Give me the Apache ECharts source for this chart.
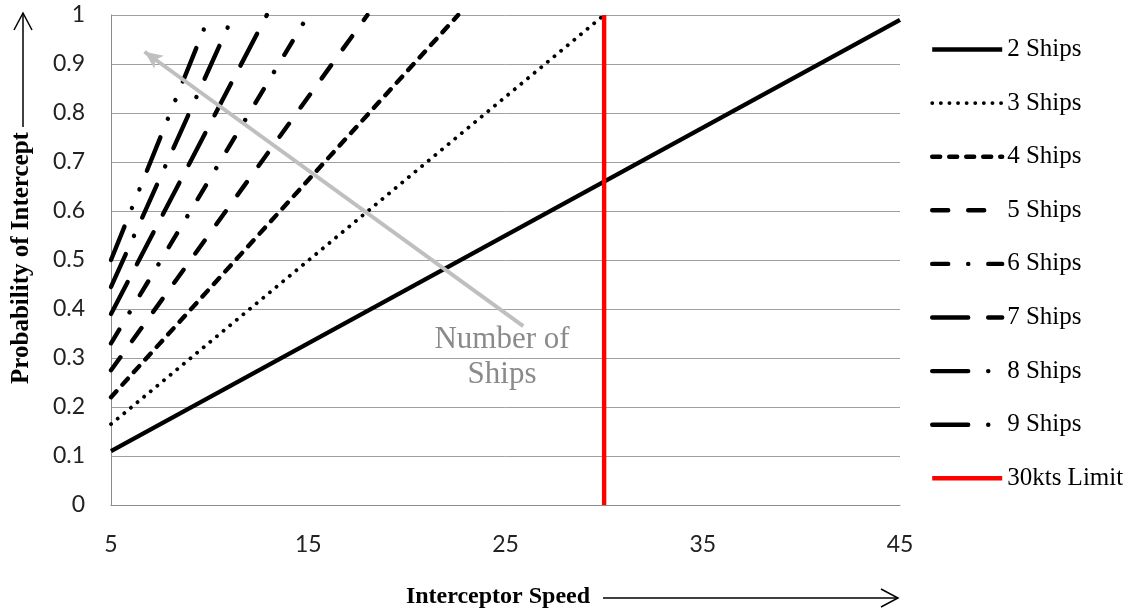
<!DOCTYPE html>
<html>
<head>
<meta charset="utf-8">
<script src="https://cdn.jsdelivr.net/npm/echarts@6/dist/echarts.min.js"></script>
<style>
html,body{margin:0;padding:0;background:#fff;}
#chart{width:1131px;height:613px;}
</style>
</head>
<body>
<div id="chart"></div>
<script>
// ---- data ----
const seriesNames = ['2 Ships', '3 Ships', '4 Ships', '5 Ships', '6 Ships', '7 Ships', '8 Ships', '9 Ships', '30kts Limit'];
const ships2 = [[5, 0.11], [45, 0.99]];
const ships3 = [[5, 0.165], [30, 1.0]];
const ships4 = [[5, 0.22], [22.6, 1.0]];
const ships5 = [[5, 0.275], [18, 1.0]];
const ships6 = [[5, 0.33], [15, 1.0]];
const ships7 = [[5, 0.39], [12.9, 1.0]];
const ships8 = [[5, 0.445], [11.2, 1.0]];
const ships9 = [[5, 0.5], [10, 1.0]];
const limit30 = [[30, 0], [30, 1]];
const arrowFrom = [25.9, 0.365];
const arrowTo = [6.7, 0.925];
const xTicks = [5, 15, 25, 35, 45];
const yTicks = [0, 0.1, 0.2, 0.3, 0.4, 0.5, 0.6, 0.7, 0.8, 0.9, 1];

const allData = [ships2, ships3, ships4, ships5, ships6, ships7, ships8, ships9, limit30];
const dashes = [
  'solid',
  [0.1, 8.5],
  [8, 9],
  [16, 20],
  [16, 20, 0.1, 20],
  [36, 20],
  [36, 20, 0.1, 20],
  [36, 20, 0.1, 20, 0.1, 20],
  'solid'
];

const serif = '"Liberation Serif", "Times New Roman", serif';
const sans = 'Lato, "Open Sans", sans-serif';

const chart = echarts.init(document.getElementById('chart'), null, {renderer: 'canvas'});

function styleFor(i) {
  const isRed = i === 8;
  return {
    color: isRed ? '#ff0000' : '#000000',
    width: i === 1 ? 3.8 : 4.4,
    type: dashes[i],
    cap: (i === 0 || isRed) ? 'butt' : 'round'
  };
}

const series = allData.map((d, i) => {
  const isRed = i === 8;
  const s = {
    name: seriesNames[i],
    type: 'line',
    data: d,
    symbol: 'none',
    showSymbol: false,
    silent: true,
    z: isRed ? 3 : 2,
    lineStyle: styleFor(i),
    itemStyle: {color: isRed ? '#ff0000' : '#000000'}
  };
  if (i === 0) {
    s.markLine = {
      silent: true,
      symbol: ['none', 'arrow'],
      symbolSize: [12, 18],
      label: {show: false},
      lineStyle: {color: '#bfbfbf', width: 4, type: 'solid'},
      data: [[{coord: arrowFrom}, {coord: arrowTo}]],
      animation: false
    };
  }
  return s;
});

chart.setOption({
  animation: false,
  backgroundColor: '#ffffff',
  grid: {left: 111, right: 231, top: 15, bottom: 108, containLabel: false},
  xAxis: {
    type: 'value',
    min: xTicks[0],
    max: xTicks[xTicks.length - 1],
    interval: 10,
    axisLine: {show: true, onZero: false, lineStyle: {color: '#8c8c8c', width: 1}},
    axisTick: {show: false},
    splitLine: {show: false},
    axisLabel: {margin: 28, color: '#222', fontFamily: sans, fontSize: 23}
  },
  yAxis: {
    type: 'value',
    min: yTicks[0],
    max: yTicks[yTicks.length - 1],
    interval: 0.1,
    axisLine: {show: true, onZero: false, lineStyle: {color: '#8c8c8c', width: 1}},
    axisTick: {show: false},
    splitLine: {show: true, lineStyle: {color: '#a0a0a0', width: 1}},
    axisLabel: {margin: 26, color: '#222', fontFamily: sans, fontSize: 23,
      formatter: v => String(Math.round(v * 10) / 10)}
  },
  legend: {
    orient: 'vertical',
    left: 930,
    top: 37,
    padding: 0,
    itemWidth: 70,
    itemHeight: 20,
    itemGap: 28.6,
    selectedMode: false,
    itemStyle: {color: 'rgba(0,0,0,0)', borderColor: 'rgba(0,0,0,0)', borderWidth: 0, opacity: 0},
    data: seriesNames.map((n, i) => ({name: n, lineStyle: styleFor(i)})),
    textStyle: {fontFamily: serif, fontSize: 25, color: '#000', lineHeight: 20}
  },
  series: series,
  graphic: [
    {type: 'text', x: 22, y: 258, rotation: Math.PI / 2, silent: true,
      style: {text: 'Probability of Intercept', font: 'bold 25px ' + serif, fill: '#000', align: 'center', verticalAlign: 'middle'}},
    {type: 'line', silent: true, shape: {x1: 23, y1: 127, x2: 23, y2: 13}, style: {stroke: '#000', lineWidth: 1.5}},
    {type: 'polyline', silent: true, shape: {points: [[14, 30], [23, 13], [32, 30]]}, style: {stroke: '#000', lineWidth: 1.5, fill: null}},
    {type: 'text', x: 498, y: 597, silent: true,
      style: {text: 'Interceptor Speed', font: 'bold 24px ' + serif, fill: '#000', align: 'center', verticalAlign: 'middle'}},
    {type: 'line', silent: true, shape: {x1: 603, y1: 598, x2: 897, y2: 598}, style: {stroke: '#000', lineWidth: 1.5}},
    {type: 'polyline', silent: true, shape: {points: [[881, 589], [898, 598], [881, 607]]}, style: {stroke: '#000', lineWidth: 1.5, fill: null}},
    {type: 'text', x: 502, y: 357, silent: true,
      style: {text: 'Number of\nShips', font: '31px ' + serif, fill: '#8a8a8a', align: 'center', verticalAlign: 'middle', lineHeight: 35}}
  ]
});
</script>
</body>
</html>
